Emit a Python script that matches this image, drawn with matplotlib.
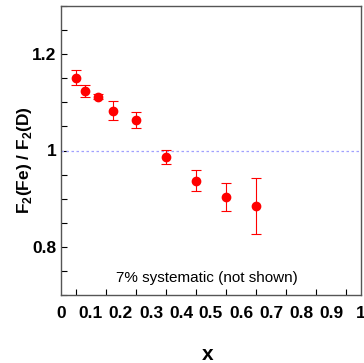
import matplotlib
matplotlib.use("Agg")
import matplotlib.pyplot as plt
from matplotlib.ticker import MultipleLocator

x_vals = [0.05, 0.08, 0.125, 0.175, 0.25, 0.35, 0.45, 0.55, 0.65]
ratio = [1.151, 1.123, 1.112, 1.083, 1.063, 0.987, 0.937, 0.904, 0.885]
err = [0.016, 0.012, 0.005, 0.020, 0.016, 0.014, 0.022, 0.029, 0.058]
x_ticklabels = ["0", "0.1", "0.2", "0.3", "0.4", "0.5", "0.6", "0.7", "0.8", "0.9", "1"]
y_ticks = [0.8, 1.0, 1.2]
y_ticklabels = ["0.8", "1", "1.2"]

plt.rcParams['font.family'] = ["Liberation Sans", "DejaVu Sans"]
plt.rcParams['mathtext.fontset'] = 'custom'
plt.rcParams['mathtext.rm'] = 'Liberation Sans'
plt.rcParams['mathtext.bf'] = 'Liberation Sans:bold'

fig = plt.figure(figsize=(3.64, 3.63), dpi=100)
ax = fig.add_axes([61/364, 1 - 295/363, 300/364, 289/363])

ax.axhline(1.0, color="#a0a0ff", lw=0.9, ls=(0, (2, 2)))
ax.errorbar(x_vals, ratio, yerr=err, fmt="o", color="red", ms=6, capsize=3.5,
            elinewidth=0.8, capthick=0.8)

ax.set_xlim(0, 1)
ax.set_ylim(0.7, 1.3)
ax.set_xticks([i / 10 for i in range(11)])
ax.set_xticklabels(x_ticklabels)
ax.xaxis.set_minor_locator(MultipleLocator(0.05))
ax.set_yticks(y_ticks)
ax.set_yticklabels(y_ticklabels)
ax.yaxis.set_minor_locator(MultipleLocator(0.05))
ax.tick_params(which="both", direction="in", length=4, width=0.8, top=False, right=False)
ax.tick_params(axis="x", which="major", length=0, pad=8)
ax.tick_params(axis="x", which="minor", length=4)
ax.tick_params(labelsize=12.5)
for lab in ax.get_xticklabels() + ax.get_yticklabels():
    lab.set_fontweight("bold")
for s in ax.spines.values():
    s.set_color("#555555")
    s.set_linewidth(1.0)

ax.text(0.487, 0.736, "7% systematic (not shown)", ha="center", va="center", fontsize=11)

ax.set_xlabel("x", fontsize=15, fontweight="bold")
ax.xaxis.label.set_va("center")
ax.xaxis.set_label_coords(0.49, -0.205)
ax.set_ylabel(r"F$_\mathbf{2}$(Fe) / F$_\mathbf{2}$(D)", fontsize=12.5, fontweight="bold")
ax.yaxis.set_label_coords(-0.09, 0.465)

fig.savefig("out.png", dpi=100)
